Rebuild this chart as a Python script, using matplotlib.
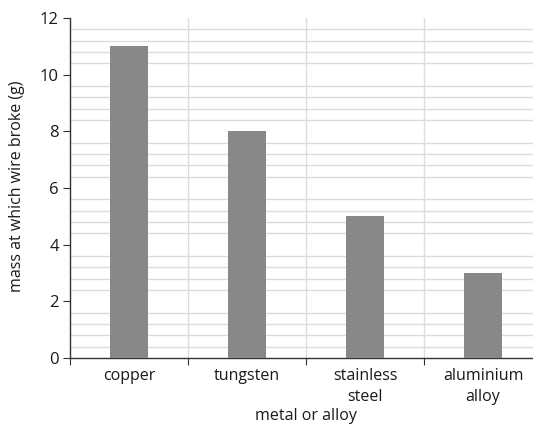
import matplotlib.pyplot as plt
import numpy as np

# data
metals = ['copper', 'tungsten', 'stainless\nsteel', 'aluminium\nalloy']
mass_g = [11, 8, 5, 3]

plt.rcParams['font.family'] = ['Open Sans', 'DejaVu Sans']

fig = plt.figure(figsize=(5.33, 4.28), dpi=100)
ax = fig.add_axes([70 / 533, 70 / 428, 463 / 533, 340 / 428])

x = np.arange(len(metals))
ax.bar(x, mass_g, width=0.32, color='#87888a', zorder=3)

ax.set_xlim(-0.5, 3.5 - 9 / 118)
ax.set_ylim(0, 12)

ax.set_yticks(np.arange(0, 13, 2))
ax.set_yticks(np.arange(0.4, 12, 0.4), minor=True)
ax.tick_params(axis='y', which='minor', length=0)
ax.tick_params(axis='y', which='major', length=5, direction='out',
               color='#333333', labelsize=12, labelcolor='#1a1a1a', pad=3)
ax.grid(axis='y', which='minor', color='#dcdcdc', linewidth=1, zorder=0)

# category boundaries for ticks / vertical grid
ax.set_xticks(np.arange(-0.5, 3.5, 1))
ax.set_xticklabels([])
ax.tick_params(axis='x', which='major', length=5, direction='out', color='#333333')
for b in [0.5, 1.5, 2.5]:
    ax.axvline(b, color='#dcdcdc', linewidth=1, zorder=1)
for xi, name in zip(x, metals):
    ax.text(xi, -0.35, name, ha='center', va='top', fontsize=11.5,
            color='#1a1a1a', linespacing=1.45)

for s in ['top', 'right']:
    ax.spines[s].set_visible(False)
for s in ['left', 'bottom']:
    ax.spines[s].set_color('#333333')
    ax.spines[s].set_linewidth(1)

fig.text(306 / 533, 1 - 416 / 428, 'metal or alloy', ha='center', va='center',
         fontsize=11.5, color='#1a1a1a')
fig.text(17 / 533, 1 - 186 / 428, 'mass at which wire broke (g)', ha='center',
         va='center', rotation=90, fontsize=11.5, color='#1a1a1a')

fig.savefig('out.png', dpi=100)
